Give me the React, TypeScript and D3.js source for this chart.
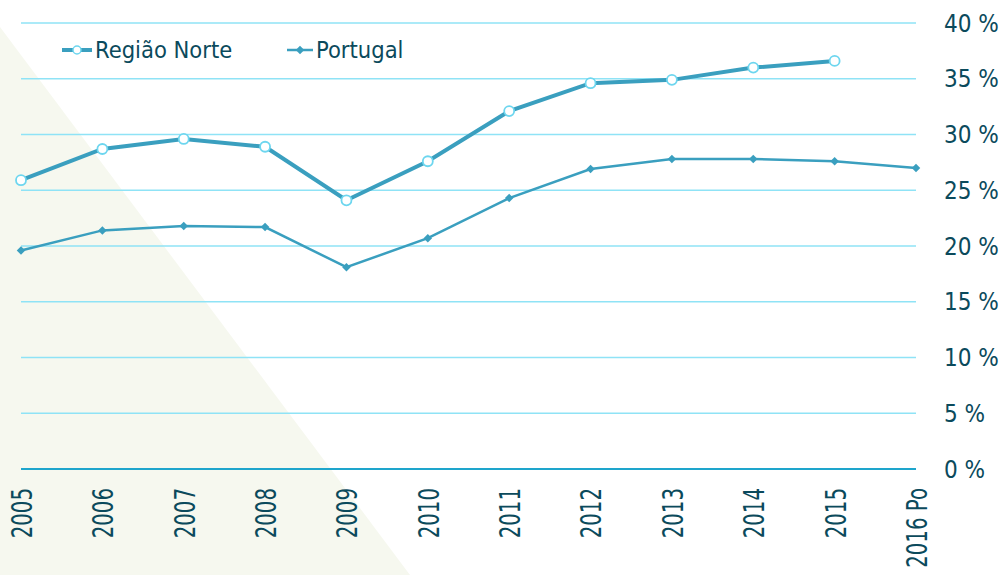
import * as d3 from "d3";

const years = ["2005", "2006", "2007", "2008", "2009", "2010", "2011", "2012", "2013", "2014", "2015", "2016 Po"];
const norte = [25.9, 28.7, 29.6, 28.9, 24.1, 27.6, 32.1, 34.6, 34.9, 36.0, 36.6];
const portugal = [19.6, 21.4, 21.8, 21.7, 18.1, 20.7, 24.3, 26.9, 27.8, 27.8, 27.6, 27.0];
const yTicks = [0, 5, 10, 15, 20, 25, 30, 35, 40];

const W = 1004;
const H = 575;
const font = "'DejaVu Sans', sans-serif";
const textColor = "#0b4a5c";
const lineColor = "#3a9fbf";

export default function App() {
  const x = d3.scalePoint<string>().domain(years).range([21, 916]);
  const y = d3.scaleLinear().domain([0, 40]).range([469, 23]);

  const line = d3
    .line<number>()
    .x((_, i) => x(years[i])!)
    .y(d => y(d));

  return (
    <svg width={W} height={H} style={{ position: "absolute", left: 0, top: 0 }}>
      <rect width={W} height={H} fill="#fff" />
      {/* fundo triangular */}
      <polygon points={`0,27 410,${H} 0,${H}`} fill="#f6f8ef" />

      {/* grelha */}
      {yTicks.map(t => (
        <g key={t}>
          <line
            x1={21}
            x2={916}
            y1={y(t)}
            y2={y(t)}
            stroke={t === 0 ? "#1ea5cc" : "#8fe3f6"}
            strokeWidth={t === 0 ? 2 : 1.6}
          />
          <text
            x={944}
            y={y(t)}
            dy="0.36em"
            fontFamily={font}
            fontStretch="condensed"
            fontSize={24}
            fill={textColor}
          >
            {t} %
          </text>
        </g>
      ))}

      {/* eixo x */}
      {years.map(yr => (
        <text
          key={yr}
          transform={`translate(${x(yr)! + 1},488) rotate(-90) scale(1,1.25)`}
          textAnchor="end"
          dy="0.36em"
          fontFamily={font}
          fontStretch="condensed"
          fontSize={22}
          fill={textColor}
        >
          {yr}
        </text>
      ))}

      {/* Portugal */}
      <path d={line(portugal)!} fill="none" stroke={lineColor} strokeWidth={2.5} />
      {portugal.map((v, i) => (
        <rect
          key={i}
          x={x(years[i])! - 3}
          y={y(v) - 3}
          width={6}
          height={6}
          transform={`rotate(45 ${x(years[i])} ${y(v)})`}
          fill={lineColor}
        />
      ))}

      {/* Região Norte */}
      <path d={line(norte)!} fill="none" stroke={lineColor} strokeWidth={4} />
      {norte.map((v, i) => (
        <circle
          key={i}
          cx={x(years[i])!}
          cy={y(v)}
          r={5}
          fill="#fff"
          stroke="#6dd6ef"
          strokeWidth={1.8}
        />
      ))}

      {/* legenda */}
      <g fontFamily={font} fontStretch="condensed" fontSize={23.5} fill={textColor}>
        <line x1={62} x2={92} y1={50} y2={50} stroke={lineColor} strokeWidth={4} />
        <circle cx={77} cy={50} r={4} fill="#fff" stroke="#6dd6ef" strokeWidth={1.5} />
        <text x={95} y={50} dy="0.36em">Região Norte</text>
        <line x1={287} x2={313} y1={50} y2={50} stroke={lineColor} strokeWidth={2.5} />
        <rect x={297} y={47} width={6} height={6} transform="rotate(45 300 50)" fill={lineColor} />
        <text x={316} y={50} dy="0.36em">Portugal</text>
      </g>
    </svg>
  );
}
